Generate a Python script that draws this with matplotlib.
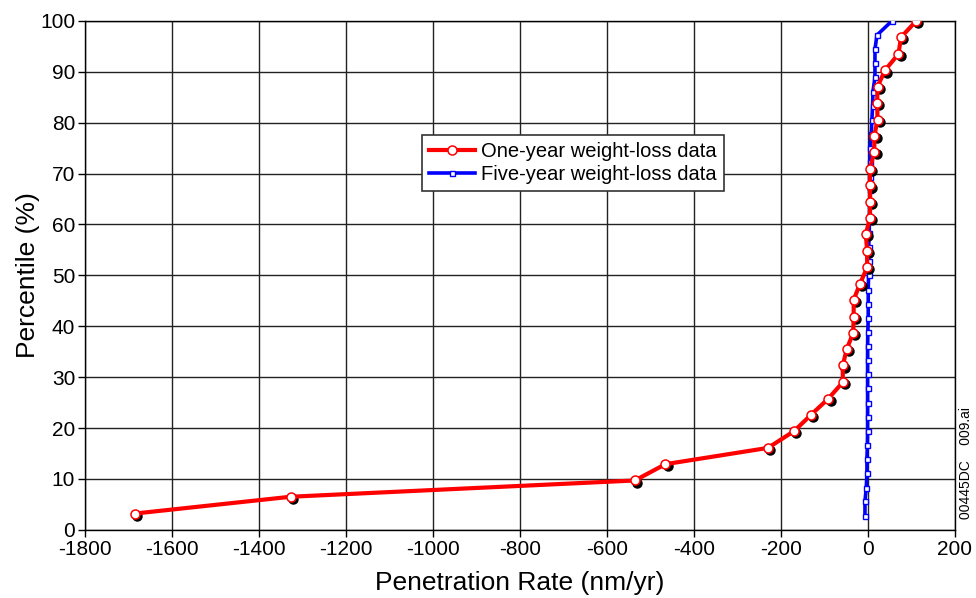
import matplotlib
matplotlib.use("Agg")
import matplotlib.pyplot as plt
from matplotlib.transforms import offset_copy

plt.rcParams['font.family'] = ['Liberation Sans', 'DejaVu Sans']
plt.rcParams['axes.unicode_minus'] = False

one_year_pct = [3.2, 6.5, 9.7, 12.9, 16.1, 19.4, 22.6, 25.8, 29.0, 32.3, 35.5,
                38.7, 41.9, 45.2, 48.4, 51.6, 54.8, 58.1, 61.3, 64.5, 67.7,
                71.0, 74.2, 77.4, 80.6, 83.9, 87.1, 90.3, 93.5, 96.8, 100.0]
one_year_rate = [-1685, -1327, -535, -465, -229, -169, -130, -90, -57, -57, -48,
                 -33, -32, -32, -17, -1, -1, -4, 5.5, 6, 5.5,
                 5.5, 15.5, 15.5, 23, 22, 23, 40, 71, 77, 112]

five_year_pct = [2.8, 5.6, 8.3, 11.1, 13.9, 16.7, 19.4, 22.2, 25.0, 27.8, 30.6,
                 33.3, 36.1, 38.9, 41.7, 44.4, 47.2, 50.0, 52.8, 55.6, 58.3,
                 61.1, 63.9, 66.7, 69.4, 72.2, 75.0, 77.8, 80.6, 83.3, 86.1,
                 88.9, 91.7, 94.4, 97.2, 100.0]
five_year_rate = [-6, -6, -3, -1.5, -1.5, -0.5, 0, 0, 0, 0, 0,
                  0, 0, 0.5, 1.5, 1.5, 1.5, 2.3, 2.5, 2.5, 4,
                  4, 5, 5, 6, 6, 6, 8.5, 10, 11.5, 12.3,
                  17, 17, 17, 21.5, 56]

x_ticks = [-1800, -1600, -1400, -1200, -1000, -800, -600, -400, -200, 0, 200]
y_ticks = [0, 10, 20, 30, 40, 50, 60, 70, 80, 90, 100]

fig = plt.figure(figsize=(9.76, 5.98), dpi=100)
ax = fig.add_axes([0.087, 0.114, 0.891, 0.851])

ax.plot(five_year_rate, five_year_pct, color='#0000ff', lw=2.6, marker='s',
        markersize=3.6, markerfacecolor='white', markeredgecolor='#0000ff',
        markeredgewidth=1.0, zorder=3, label='Five-year weight-loss data')

shadow = offset_copy(ax.transData, fig=fig, x=1.6, y=-1.6, units='points')
ax.plot(one_year_rate, one_year_pct, linestyle='none', marker='o', markersize=6.5,
        markerfacecolor='black', markeredgecolor='black', transform=shadow, zorder=4)
ax.plot(one_year_rate, one_year_pct, color='#ff0000', lw=3.0, marker='o',
        markersize=6.5, markerfacecolor='white', markeredgecolor='#ff0000',
        markeredgewidth=1.1, zorder=5, label='One-year weight-loss data')

ax.set_xlim(-1800, 200)
ax.set_ylim(0, 100)
ax.set_xticks(x_ticks)
ax.set_yticks(y_ticks)
ax.tick_params(direction='out', length=5, width=1, labelsize=15, color='black', pad=2)
ax.grid(True, color='#222222', lw=1.0)
ax.set_axisbelow(True)
for s in ax.spines.values():
    s.set_color('black')
    s.set_linewidth(1.0)

ax.set_xlabel('Penetration Rate (nm/yr)', fontsize=19, labelpad=9)
ax.set_ylabel('Percentile (%)', fontsize=19, labelpad=0)

handles, labels = ax.get_legend_handles_labels()
leg = ax.legend(handles[::-1], labels[::-1], loc='center', bbox_to_anchor=(0.561, 0.721),
                fontsize=14.5, frameon=True, fancybox=False, edgecolor='#333333',
                framealpha=1, handlelength=2.3, handletextpad=0.3,
                borderpad=0.35, labelspacing=0.2, borderaxespad=0)
leg.get_frame().set_linewidth(1.2)

fig.text(0.99, 0.225, '00445DC    009.ai', rotation=90, fontsize=10,
         ha='center', va='center')

fig.savefig('out.png', dpi=100)
